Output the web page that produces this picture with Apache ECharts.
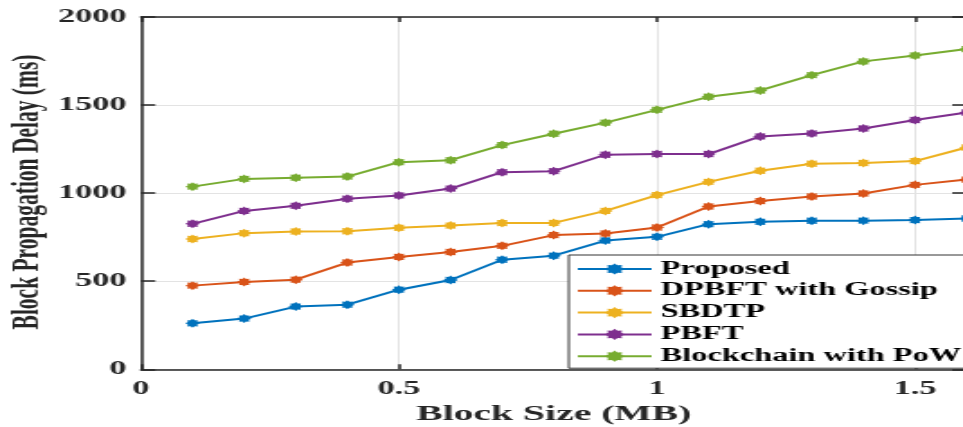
<!DOCTYPE html>
<html>
<head>
<meta charset="utf-8">
<script src="https://cdn.jsdelivr.net/npm/echarts@6/dist/echarts.min.js"></script>
<style>
  html, body { margin: 0; padding: 0; background: #fff; overflow: hidden; width: 963px; height: 427px; }
  /* The figure is laid out narrow and widened horizontally, giving the wide serif look */
  #chart { width: 538px; height: 427px; transform: scaleX(1.8); transform-origin: 0 0; }
</style>
</head>
<body>
<div id="chart"></div>
<script>
// Block size (MB)
const blockSizes = [0.1, 0.2, 0.3, 0.4, 0.5, 0.6, 0.7, 0.8, 0.9, 1.0, 1.1, 1.2, 1.3, 1.4, 1.5, 1.6];

// Block propagation delay (ms) per scheme
const proposed    = [261, 288, 356, 367, 452, 507, 622, 645, 731, 752, 824, 837, 843, 844, 847, 856];
const dpbftGossip = [475, 496, 509, 606, 638, 666, 701, 762, 771, 805, 924, 955, 981, 998, 1047, 1077];
const sbdtp       = [740, 773, 782, 784, 803, 816, 830, 831, 899, 989, 1064, 1127, 1167, 1171, 1182, 1259];
const pbft        = [826, 899, 928, 968, 987, 1026, 1119, 1125, 1218, 1222, 1222, 1322, 1339, 1367, 1415, 1458];
const powChain    = [1037, 1081, 1088, 1094, 1176, 1187, 1273, 1337, 1400, 1473, 1547, 1583, 1670, 1748, 1782, 1818];

const seriesNames = ['Proposed', 'DPBFT with Gossip', 'SBDTP', 'PBFT', 'Blockchain with PoW'];
const seriesData = [proposed, dpbftGossip, sbdtp, pbft, powChain];
const colors = ['#0072BD', '#D95319', '#EDB120', '#7E2F8E', '#77AC30'];

// Chunky asterisk marker as a spiky polygon
function asteriskPath() {
  const pts = [];
  const n = 8;
  for (let i = 0; i < n * 2; i++) {
    const a = Math.PI * i / n;
    const r = i % 2 === 0 ? 1 : 0.72;
    pts.push((Math.cos(a) * r).toFixed(3) + ' ' + (Math.sin(a) * r).toFixed(3));
  }
  return 'path://M' + pts.join(' L') + ' Z';
}
const marker = asteriskPath();

const FONT = '"Liberation Serif", "Times New Roman", serif';
const AXIS_COLOR = '#262626';

const chart = echarts.init(document.getElementById('chart'), null, { renderer: 'canvas' });

chart.setOption({
  animation: false,
  backgroundColor: '#fff',
  grid: { left: 78.3, right: 1, top: 17, bottom: 57.7, containLabel: false, outerBoundsMode: 'none' },
  // Rotated y-axis title
  graphic: [{
    type: 'text',
    x: 15,
    y: 192,
    rotation: Math.PI / 2,
    style: {
      text: 'Block Propagation Delay (ms)',
      align: 'center',
      verticalAlign: 'middle',
      font: 'bold 21.5px ' + FONT,
      fill: '#262626'
    }
  }],
  legend: {
    orient: 'vertical',
    left: 316,
    top: 255,
    padding: [5, 5, 3, 4],
    itemWidth: 41,
    itemHeight: 14,
    itemGap: 3.8,
    backgroundColor: '#fff',
    borderColor: '#333',
    borderWidth: 1,
    borderRadius: 0,
    textStyle: { fontFamily: FONT, fontWeight: 'bold', fontSize: 18, color: '#000' },
    data: seriesNames
  },
  xAxis: [
    {
      type: 'value',
      min: 0, max: 1.6, interval: 0.5,
      name: 'Block Size (MB)',
      nameLocation: 'middle',
      nameGap: 33,
      nameTextStyle: { fontFamily: FONT, fontWeight: 'bold', fontSize: 22, color: '#262626' },
      axisLine: { show: true, onZero: false, lineStyle: { color: AXIS_COLOR, width: 1.5 } },
      axisTick: { show: true, inside: true, length: 5, lineStyle: { color: AXIS_COLOR, width: 1.5 } },
      axisLabel: {
        showMaxLabel: false, margin: 10,
        fontFamily: FONT, fontWeight: 'bold', fontSize: 19, color: '#262626',
        formatter: v => String(v)
      },
      splitLine: { show: true, lineStyle: { color: '#e3e3e3', width: 1 } }
    },
    {
      type: 'value', position: 'top',
      min: 0, max: 1.6, interval: 0.5,
      axisLine: { show: true, onZero: false, lineStyle: { color: AXIS_COLOR, width: 1.5 } },
      axisTick: { show: true, inside: true, length: 5, lineStyle: { color: AXIS_COLOR, width: 1.5 } },
      axisLabel: { show: false },
      splitLine: { show: false }
    }
  ],
  yAxis: [
    {
      type: 'value',
      min: 0, max: 2000, interval: 500,
      axisLine: { show: true, onZero: false, lineStyle: { color: AXIS_COLOR, width: 1.5 } },
      axisTick: { show: true, inside: true, length: 8, lineStyle: { color: AXIS_COLOR, width: 1.5 } },
      axisLabel: {
        margin: 8, fontFamily: FONT, fontWeight: 'bold', fontSize: 19, color: '#262626',
        formatter: v => String(v)
      },
      splitLine: { show: true, lineStyle: { color: '#e3e3e3', width: 1 } }
    },
    {
      type: 'value', position: 'right',
      min: 0, max: 2000, interval: 500,
      axisLine: { show: true, onZero: false, lineStyle: { color: AXIS_COLOR, width: 1.5 } },
      axisTick: { show: true, inside: true, length: 8, lineStyle: { color: AXIS_COLOR, width: 1.5 } },
      axisLabel: { show: false },
      splitLine: { show: false }
    }
  ],
  series: seriesNames.map((name, i) => ({
    name,
    type: 'line',
    data: blockSizes.map((x, j) => [x, seriesData[i][j]]),
    color: colors[i],
    symbol: marker,
    symbolSize: [8, 9],
    showAllSymbol: true,
    lineStyle: { width: 2, color: colors[i] },
    itemStyle: { color: colors[i] },
    z: 3 + i
  }))
});
</script>
</body>
</html>
